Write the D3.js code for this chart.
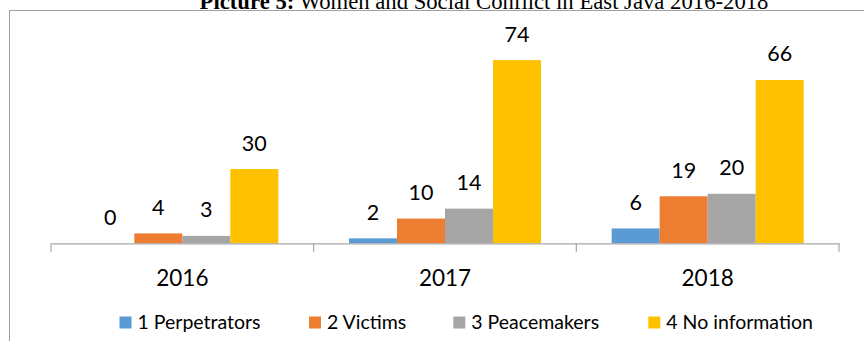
<!DOCTYPE html>
<html>
<head>
<meta charset="utf-8">
<script src="https://cdn.jsdelivr.net/npm/d3@7"></script>
<style>
  html, body { margin: 0; padding: 0; background: #fff; }
  svg { display: block; }
</style>
</head>
<body>
<svg id="chart" width="864" height="341"></svg>
<script>
// Women and social conflict in East Java, counts by role and year
const years = ["2016", "2017", "2018"];
const seriesNames = ["1 Perpetrators", "2 Victims", "3 Peacemakers", "4 No information"];
const perpetrators = [0, 2, 6];
const victims = [4, 10, 19];
const peacemakers = [3, 14, 20];
const noInformation = [30, 74, 66];
const seriesColors = ["#5B9BD5", "#ED7D31", "#A5A5A5", "#FFC000"];
const yDomain = [0, 80];

const seriesValues = [perpetrators, victims, peacemakers, noInformation];
const rows = years.map((year, i) => ({
  year,
  values: seriesNames.map((name, s) => ({ name, value: seriesValues[s][i], color: seriesColors[s] }))
}));

const svg = d3.select("#chart");
const labelFont = "Lato, 'Open Sans', sans-serif";

// Title (sits partly above the top edge)
const title = svg.append("text")
  .attr("x", 484)
  .attr("y", 9)
  .attr("text-anchor", "middle")
  .attr("font-family", "'Liberation Serif', 'Times New Roman', serif")
  .attr("font-size", 22.7)
  .attr("fill", "#000");
title.append("tspan").attr("font-weight", "bold").text("Picture 5:");
title.append("tspan").text(" Women and Social Conflict in East Java 2016-2018");

// Chart frame
svg.append("rect")
  .attr("x", 9.5).attr("y", 10.5)
  .attr("width", 900).attr("height", 400)
  .attr("fill", "none")
  .attr("stroke", "#a0a0a0")
  .attr("stroke-width", 1);

// Scales
const plotLeft = 51, plotRight = 839, baseY = 243.3, topY = 45.3;
const x0 = d3.scaleBand().domain(years).range([plotLeft, plotRight]).padding(0);
const groupGap = x0.bandwidth() * 0.1345;
const x1 = d3.scaleBand().domain(seriesNames).range([groupGap, x0.bandwidth() - groupGap]).padding(0);
const y = d3.scaleLinear().domain(yDomain).range([baseY, topY]);

// Bars
const groups = svg.append("g").selectAll("g")
  .data(rows).join("g")
  .attr("transform", d => `translate(${x0(d.year)},0)`);

groups.selectAll("rect")
  .data(d => d.values).join("rect")
  .attr("x", d => x1(d.name))
  .attr("y", d => y(d.value))
  .attr("width", x1.bandwidth())
  .attr("height", d => y(0) - y(d.value))
  .attr("fill", d => d.color);

// Value labels
groups.selectAll("text.value")
  .data(d => d.values).join("text")
  .attr("class", "value")
  .attr("x", d => x1(d.name) + x1.bandwidth() / 2)
  .attr("y", d => y(d.value) - 18.5)
  .attr("text-anchor", "middle")
  .attr("font-family", labelFont)
  .attr("font-size", 21.5)
  .attr("fill", "#000")
  .text(d => d.value);

// Category axis
const xAxis = d3.axisBottom(x0).tickSize(0).tickPadding(0);
const axisG = svg.append("g").attr("transform", `translate(0,${baseY})`).call(xAxis);
axisG.select(".domain").attr("stroke", "#a6a6a6").attr("stroke-width", 1.2);
axisG.selectAll(".tick text")
  .attr("y", 286 - baseY)
  .attr("dy", 0)
  .attr("font-family", labelFont)
  .attr("font-size", 22.5)
  .attr("fill", "#000");

// Category separators
const boundaries = years.map(yr => x0(yr)).concat([plotRight]);
svg.append("g").selectAll("line")
  .data(boundaries).join("line")
  .attr("x1", d => d).attr("x2", d => d)
  .attr("y1", baseY).attr("y2", baseY + 8.5)
  .attr("stroke", "#a6a6a6")
  .attr("stroke-width", 1.2);

// Legend
const legendSquareX = [119.5, 309, 453.3, 648.3];
const legend = svg.append("g").selectAll("g")
  .data(seriesNames).join("g")
  .attr("transform", (d, i) => `translate(${legendSquareX[i]},316.5)`);
legend.append("rect")
  .attr("width", 12).attr("height", 12)
  .attr("fill", (d, i) => seriesColors[i]);
legend.append("text")
  .attr("x", 18)
  .attr("y", 12.5)
  .attr("font-family", labelFont)
  .attr("font-size", 19.5)
  .attr("fill", "#000")
  .text(d => d);
</script>
</body>
</html>
